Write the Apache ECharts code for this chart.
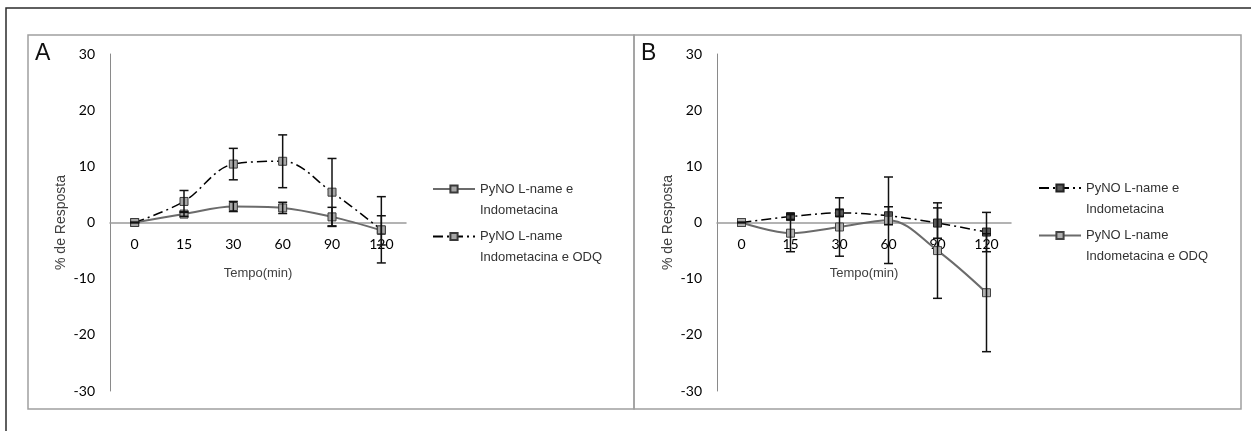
<!DOCTYPE html>
<html>
<head>
<meta charset="utf-8">
<script src="https://cdn.jsdelivr.net/npm/echarts@6/dist/echarts.min.js"></script>
<style>
  html, body { margin: 0; padding: 0; background: #fff; }
  #chart { width: 1251px; height: 431px; }
</style>
</head>
<body>
<div id="chart"></div>
<script>
  // time points (min)
  var tempos = ['0', '15', '30', '60', '90', '120'];
  var yTicks = [-30, -20, -10, 0, 10, 20, 30];

  // panel A
  var aSolidMean = [0, 1.5, 2.85, 2.6, 1.0, -1.4];
  var aSolidErr = [0, 0.4, 0.9, 1.0, 1.7, 2.6];
  var aDashMean = [0, 3.75, 10.4, 10.9, 5.4, -1.3];
  var aDashErr = [0, 1.95, 2.8, 4.7, 6.0, 5.9];

  // panel B
  var bDashMean = [0, 1.05, 1.7, 1.2, -0.1, -1.7];
  var bDashErr = [0, 0.5, 0.6, 1.6, 2.7, 3.5];
  var bSolidMean = [0, -1.9, -0.8, 0.4, -5.0, -12.5];
  var bSolidErr = [0, 3.3, 5.2, 7.7, 8.5, 10.5];

  var nomes = {
    A1: 'PyNO L-name e\nIndometacina',
    A2: 'PyNO L-name\nIndometacina e ODQ',
    B1: 'PyNO L-name e\nIndometacina',
    B2: 'PyNO L-name\nIndometacina e ODQ'
  };

  var chart = echarts.init(document.getElementById('chart'));

  function errData(mean, err) {
    return mean.map(function (m, i) { return [i, m - err[i], m + err[i]]; });
  }

  function errSeries(idx, mean, err) {
    return {
      type: 'custom',
      xAxisIndex: idx, yAxisIndex: idx,
      z: 5,
      silent: true,
      encode: { x: 0, y: [1, 2] },
      data: errData(mean, err),
      renderItem: function (params, api) {
        var lo = api.coord([api.value(0), api.value(1)]);
        var hi = api.coord([api.value(0), api.value(2)]);
        var w = 4.5;
        var st = { stroke: '#111', lineWidth: 1.5 };
        return {
          type: 'group',
          children: [
            { type: 'line', shape: { x1: lo[0], y1: lo[1], x2: hi[0], y2: hi[1] }, style: st },
            { type: 'line', shape: { x1: lo[0] - w, y1: lo[1], x2: lo[0] + w, y2: lo[1] }, style: st },
            { type: 'line', shape: { x1: hi[0] - w, y1: hi[1], x2: hi[0] + w, y2: hi[1] }, style: st }
          ]
        };
      }
    };
  }

  function lineSeries(name, idx, mean, dashed, fill, border, color) {
    return {
      name: name,
      type: 'line',
      xAxisIndex: idx, yAxisIndex: idx,
      data: mean,
      smooth: 0.35,
      symbol: 'rect',
      symbolSize: 8,
      z: 3,
      lineStyle: dashed
        ? { color: '#000', width: 1.5, type: [10, 4, 2, 4] }
        : { color: color, width: 2 },
      itemStyle: { color: fill, borderColor: border, borderWidth: 1 }
    };
  }

  // x axis sits at y = 0 (middle of the symmetric -30..30 range)
  function xAx(idx) {
    return {
      type: 'category', gridIndex: idx, data: tempos,
      boundaryGap: true,
      position: 'bottom',
      offset: -168.5,
      axisLine: { onZero: false, lineStyle: { color: '#9a9a9a', width: 1.5 } },
      axisTick: { show: false },
      axisLabel: { fontFamily: 'Lato', fontSize: 14, color: '#000', margin: 15 },
      name: 'Tempo(min)', nameLocation: 'middle', nameGap: 44,
      nameTextStyle: { fontFamily: 'Liberation Sans', fontSize: 13, color: '#404040' }
    };
  }

  function yAx(idx) {
    return {
      type: 'value', gridIndex: idx, min: -30, max: 30, interval: 10,
      axisLine: { show: true, onZero: false, lineStyle: { color: '#8a8a8a', width: 1 } },
      axisTick: { show: false },
      splitLine: { show: false },
      axisLabel: {
        fontFamily: 'Lato', fontSize: 14, color: '#000', margin: 15,
        formatter: function (v) { return yTicks.indexOf(v) >= 0 ? String(v) : ''; }
      },
      name: '% de Resposta', nameLocation: 'middle', nameRotate: 90, nameGap: 42,
      nameTextStyle: { fontFamily: 'Liberation Sans', fontSize: 14, color: '#404040' }
    };
  }

  function legendAt(key, left, top) {
    return {
      data: [key], left: left, top: top, orient: 'vertical', padding: 0,
      itemWidth: 42, itemHeight: 9, itemGap: 5,
      selectedMode: false,
      formatter: function (n) { return '\n' + nomes[n]; },
      textStyle: { fontFamily: 'Liberation Sans', fontSize: 13, color: '#333', lineHeight: 21 }
    };
  }

  var option = {
    animation: false,
    backgroundColor: '#fff',
    grid: [
      { left: 110, top: 54, width: 296, height: 337, outerBoundsMode: 'none' },
      { left: 717, top: 54, width: 294, height: 337, outerBoundsMode: 'none' }
    ],
    xAxis: [xAx(0), xAx(1)],
    yAxis: [yAx(0), yAx(1)],
    legend: [
      legendAt('A1', 432, 157.5),
      legendAt('A2', 432, 205),
      legendAt('B1', 1038, 156.5),
      legendAt('B2', 1038, 204)
    ],
    graphic: [
      { type: 'rect', shape: { x: 6, y: 8, width: 1260, height: 440 }, style: { fill: 'none', stroke: '#2b2b2b', lineWidth: 1.5 }, silent: true },
      { type: 'rect', shape: { x: 28, y: 35, width: 606, height: 374 }, style: { fill: 'none', stroke: '#a0a0a0', lineWidth: 1.5 }, silent: true },
      { type: 'rect', shape: { x: 634, y: 35, width: 607, height: 374 }, style: { fill: 'none', stroke: '#a0a0a0', lineWidth: 1.5 }, silent: true },
      { type: 'text', left: 35, top: 42, style: { text: 'A', fontFamily: 'Liberation Sans', fontSize: 23, fill: '#111' } },
      { type: 'text', left: 641, top: 42, style: { text: 'B', fontFamily: 'Liberation Sans', fontSize: 23, fill: '#111' } }
    ],
    series: [
      lineSeries('A1', 0, aSolidMean, false, '#a6a6a6', '#3a3a3a', '#6b6b6b'),
      lineSeries('A2', 0, aDashMean, true, '#a6a6a6', '#3a3a3a'),
      errSeries(0, aSolidMean, aSolidErr),
      errSeries(0, aDashMean, aDashErr),
      lineSeries('B1', 1, bDashMean, true, '#595959', '#222', '#000'),
      lineSeries('B2', 1, bSolidMean, false, '#b0b0b0', '#444', '#6b6b6b'),
      errSeries(1, bDashMean, bDashErr),
      errSeries(1, bSolidMean, bSolidErr)
    ]
  };

  chart.setOption(option);
</script>
</body>
</html>
